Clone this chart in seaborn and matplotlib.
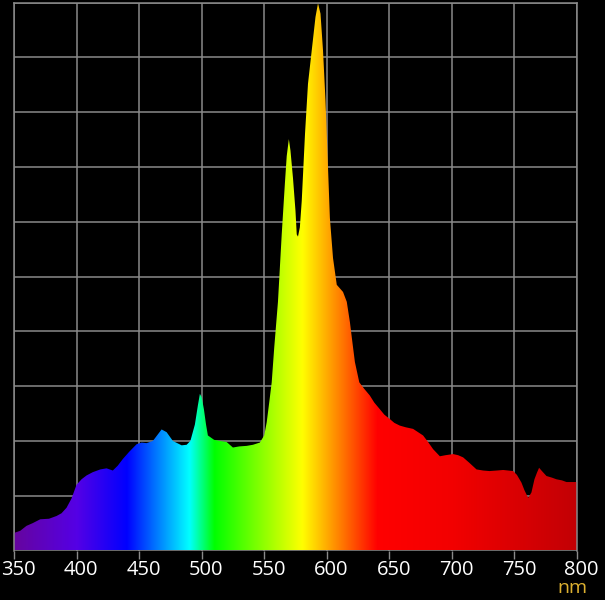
import numpy as np
import matplotlib
matplotlib.use("Agg")
import matplotlib.pyplot as plt
import matplotlib.transforms as mtransforms
import seaborn as sns

# --- spectrum (wavelength in nm, relative intensity 0-10) ---
wavelength = [350, 355, 360, 365, 371, 378, 384, 388, 392, 396, 400, 404, 408, 413,
              419, 424, 429, 433, 437, 442, 448, 452, 456, 461, 465, 468, 472, 477,
              484, 488, 491, 494.6, 497, 498.6, 500, 501.8, 503.5, 505, 510, 514.6,
              520, 525, 530, 536, 541, 546.5, 550, 552, 554, 556, 558, 561, 564,
              566.5, 568, 569.7, 571, 573, 575, 576, 577, 578.5, 580, 582.6, 585,
              588, 591, 593, 595, 597, 599, 601, 602.5, 605, 608, 613, 616, 618.5,
              620.5, 622.5, 626, 630, 634.4, 638, 642.4, 646, 650.4, 654, 658.4,
              663, 669, 673, 677, 681, 685, 690.4, 695, 701, 705, 709, 714, 719.7,
              725, 730, 736, 741, 745, 749, 752, 755.6, 758, 761, 763.6, 766, 768,
              769.7, 772, 775.6, 780, 783.6, 788, 791.6, 796, 800]
intensity = [0.32, 0.36, 0.45, 0.50, 0.57, 0.58, 0.63, 0.68, 0.78, 0.95, 1.20, 1.30, 1.37,
             1.43, 1.48, 1.50, 1.46, 1.55, 1.67, 1.80, 1.94, 1.97, 1.96, 2.00, 2.12, 2.21,
             2.16, 2.00, 1.92, 1.93, 2.00, 2.30, 2.65, 2.86, 2.80, 2.58, 2.30, 2.10, 2.02,
             2.00, 1.98, 1.88, 1.90, 1.91, 1.93, 1.97, 2.10, 2.34, 2.70, 3.07, 3.70, 4.54,
             5.77, 6.69, 7.20, 7.51, 7.30, 6.80, 6.20, 5.77, 5.73, 5.90, 6.38, 7.60, 8.52,
             9.13, 9.74, 9.99, 9.80, 9.13, 8.21, 6.99, 6.07, 5.34, 4.85, 4.72, 4.54, 4.17,
             3.80, 3.44, 3.07, 2.95, 2.83, 2.70, 2.58, 2.48, 2.40, 2.33, 2.28, 2.25, 2.22,
             2.16, 2.10, 1.98, 1.85, 1.72, 1.74, 1.76, 1.74, 1.70, 1.60, 1.48, 1.46, 1.45,
             1.46, 1.47, 1.46, 1.45, 1.38, 1.24, 1.10, 0.96, 1.06, 1.30, 1.42, 1.51, 1.45,
             1.36, 1.33, 1.30, 1.28, 1.25, 1.25, 1.25]

xticks = [350, 400, 450, 500, 550, 600, 650, 700, 750, 800]

# colour anchors of the visible spectrum
color_nm = [350, 400, 440, 490, 510, 580, 640, 700, 800]
color_rgb = [(0.40, 0.02, 0.62), (0.33, 0.0, 0.90), (0.0, 0.0, 1.0), (0.0, 1.0, 1.0),
             (0.0, 1.0, 0.0), (1.0, 1.0, 0.0), (1.0, 0.0, 0.0), (0.95, 0.0, 0.0),
             (0.76, 0.0, 0.02)]

sns.set_style("dark", {"axes.facecolor": "black", "figure.facecolor": "black",
                       "grid.color": "#8a8a8a"})
plt.rcParams['font.family'] = ['Open Sans', 'DejaVu Sans']

fig = plt.figure(figsize=(6.05, 6.0), dpi=100)
ax = fig.add_axes([0.0231, 0.0825, 0.9306, 0.913])

# filled area (invisible) used to clip the rainbow gradient
fill = ax.fill_between(wavelength, intensity, 0, color="none", lw=0)
clip = fill.get_paths()[0]

grid_x = np.linspace(350, 800, 1200)
rgb = np.array(color_rgb)
grad = np.stack([np.interp(grid_x, color_nm, rgb[:, k]) for k in range(3)], axis=-1)
img = ax.imshow(grad[np.newaxis, :, :], extent=[350, 800, 0, 10], aspect="auto",
                origin="lower", interpolation="bilinear", zorder=2)
img.set_clip_path(clip, transform=ax.transData)

ax.set_xlim(350, 800)
ax.set_ylim(0, 10)
ax.set_xticks(xticks)
ax.set_yticks(range(0, 11))
ax.set_yticklabels([])
ax.grid(True, color="#8a8a8a", lw=1.1, zorder=1)
ax.set_axisbelow(True)
ax.tick_params(axis="y", length=0)
ax.tick_params(axis="x", bottom=True, direction="out", length=5.5, width=1,
               color="#8a8a8a", labelcolor="white", labelsize=14.5, pad=1.5)
for side in ["left", "right", "top"]:
    ax.spines[side].set_visible(True)
    ax.spines[side].set_color("#8a8a8a")
    ax.spines[side].set_linewidth(1.1)
ax.spines["bottom"].set_visible(False)

# labels sit a few pixels right of their ticks in the reference
shift = mtransforms.ScaledTranslation(4.5 / 100, 0, fig.dpi_scale_trans)
for lab in ax.get_xticklabels():
    lab.set_transform(lab.get_transform() + shift)

fig.text(0.947, 0.011, "nm", color="#dcb030", fontsize=14, ha="center", va="baseline")

fig.savefig("out.png", dpi=100, facecolor="black")
